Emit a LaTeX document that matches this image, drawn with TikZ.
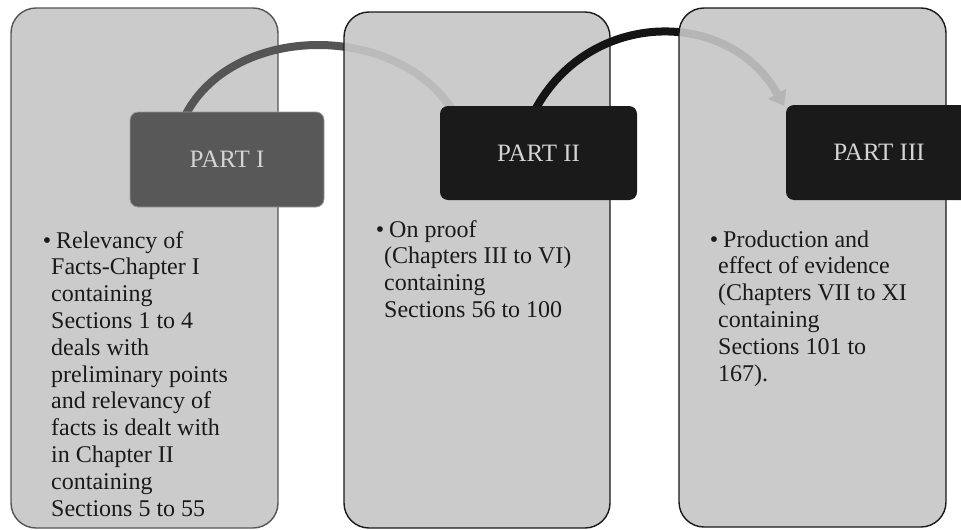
\documentclass[tikz,border=0pt]{standalone}
\usepackage{fontspec}
\setmainfont{Liberation Serif}
\usetikzlibrary{arrows.meta}
\definecolor{boxfill}{HTML}{C6C6C6}
\definecolor{partone}{HTML}{585858}
\definecolor{parttwo}{HTML}{1A1A1A}
\definecolor{arcone}{HTML}{555555}
\definecolor{arctwo}{HTML}{141414}
\definecolor{labelgray}{HTML}{D4D4D4}
\definecolor{bodytext}{HTML}{1A1A1A}
\tikzset{
  bigbox/.style={rectangle, rounded corners=25pt, fill=boxfill, fill opacity=0.91, line width=1.4pt, inner sep=0pt},
  partbox/.style={rectangle, rounded corners=8pt, minimum height=95pt, inner sep=0pt,
     text=labelgray, font=\fontsize{25}{29}\selectfont, text opacity=1},
  bodytxt/.style={anchor=base west, inner sep=0pt, text=bodytext, font=\fontsize{24}{26.8}\selectfont},
  arcline/.style={line width=8pt, line cap=butt}
}
\newcommand{\bul}{\makebox[0pt][r]{\textbullet}\hspace*{5pt}}
\begin{document}
\begin{tikzpicture}[x=1pt,y=-1pt]
\useasboundingbox (0,0) rectangle (961,530);
\begin{scope}
\clip (0,0) rectangle (961,530);
% big boxes and arcs, in layer order
\node[bigbox, draw=arcone, minimum width=267pt, minimum height=520pt] (b1) at (144.5,268) {};
\coordinate (a1s) at (186,114);
\coordinate (a1e) at (455,114);
\draw[arcline, arcone] (a1s) .. controls (235,22) and (400,22) .. (a1e);
\node[bigbox, draw=black!90, minimum width=266pt, minimum height=516pt] (b2) at (477,270) {};
\coordinate (a2s) at (535,110);
\coordinate (a2e) at (784,106);
\draw[arcline, arctwo, -{Triangle[width=20pt,length=14pt]}] (a2s) .. controls (590,8) and (730,8) .. (a2e);
\node[bigbox, draw=black!90, minimum width=267pt, minimum height=519pt] (b3) at (812.5,267.5) {};
% part boxes
\node[partbox, fill=partone, draw=black!40, line width=0.8pt, minimum width=194pt] (p1) at (227,159.5) {PART I};
\node[partbox, fill=parttwo, minimum width=197pt, minimum height=94pt] (p2) at (538.5,153) {PART II};
\node[partbox, fill=parttwo, minimum width=186pt] (p3) at (879,152.5) {PART III};
% body texts
\node[bodytxt] (t1) at (51,248) {\parbox[t]{230pt}{\raggedright
\bul Relevancy of\\
Facts-Chapter I\\
containing\\
Sections 1 to 4\\
deals with\\
preliminary points\\
and relevancy of\\
facts is dealt with\\
in Chapter II\\
containing\\
Sections 5 to 55}};
\node[bodytxt] (t2) at (384,237) {\parbox[t]{220pt}{\raggedright
\bul On proof\\
(Chapters III to VI)\\
containing\\
Sections 56 to 100}};
\node[bodytxt] (t3) at (718,247) {\parbox[t]{220pt}{\raggedright
\bul Production and\\
effect of evidence\\
(Chapters VII to XI\\
containing\\
Sections 101 to\\
167).}};
\end{scope}
\end{tikzpicture}
\end{document}
